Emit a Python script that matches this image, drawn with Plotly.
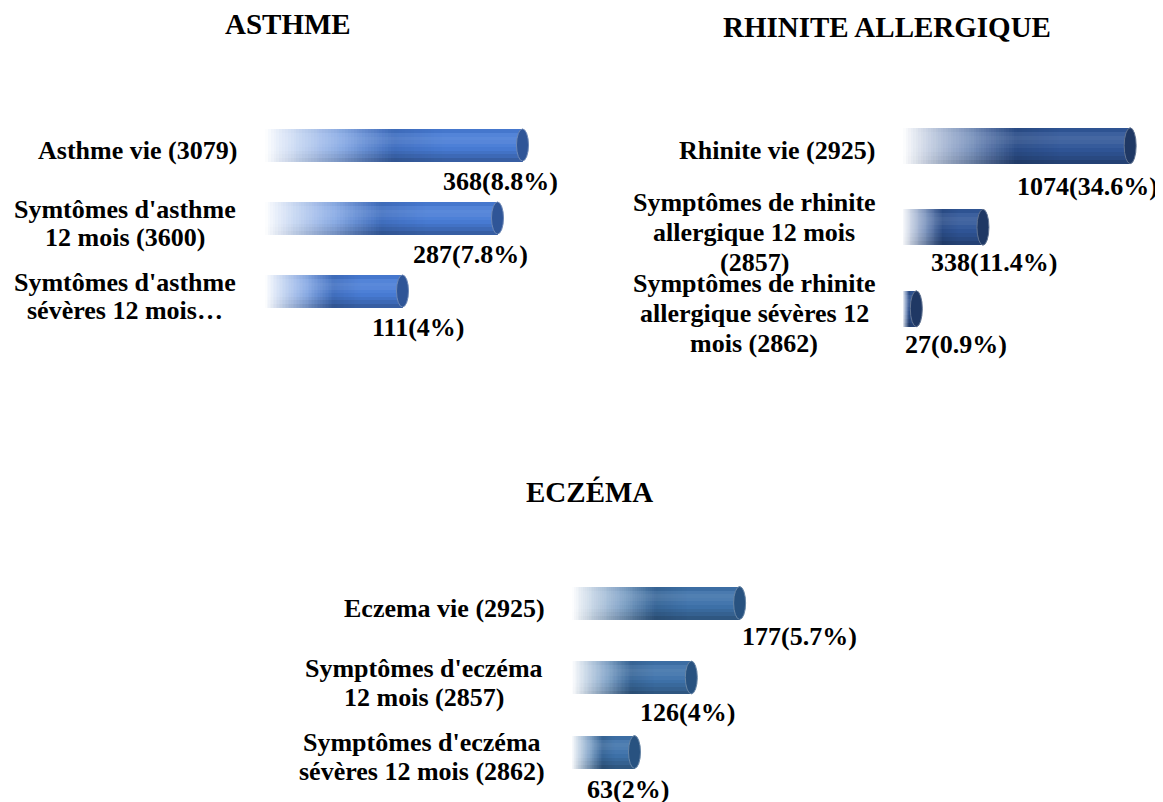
import plotly.graph_objects as go

# ---------------------------------------------------------------------------
# Donnees
# ---------------------------------------------------------------------------
asthme_labels = [
    "Asthme vie (3079)",
    "Symtômes d'asthme<br>12 mois (3600)",
    "Symtômes d'asthme<br>sévères 12 mois…",
]
asthme_counts = [368, 287, 111]
asthme_pct = [8.8, 7.8, 4]

rhinite_labels = [
    "Rhinite vie (2925)",
    "Symptômes de rhinite<br>allergique 12 mois<br>(2857)",
    "Symptômes de rhinite<br>allergique sévères 12<br>mois (2862)",
]
rhinite_counts = [1074, 338, 27]
rhinite_pct = [34.6, 11.4, 0.9]

eczema_labels = [
    "Eczema vie (2925)",
    "Symptômes d'eczéma<br>12 mois (2857)",
    "Symptômes d'eczéma<br>sévères 12 mois (2862)",
]
eczema_counts = [177, 126, 63]
eczema_pct = [5.7, 4, 2]

# ---------------------------------------------------------------------------
# Mise en page (coordonnees en pixels de la page, marge du body = 8 px)
# ---------------------------------------------------------------------------
PAGE_OFF = 8
W, H = 1163 - PAGE_OFF, 802 - PAGE_OFF
FONT = "Liberation Serif, Times New Roman, serif"
N_SEG = 90
BAR_W = 0.44

# ombrage vertical du cylindre (du haut vers le bas), >0 assombrit, <0 eclaircit
V_SHADE = [0.04, -0.06, -0.10, -0.08, -0.03, 0.02, 0.08, 0.15, 0.24]


def fx(p):
    return (p - PAGE_OFF) / W


def fy(p):
    return 1 - (p - PAGE_OFF) / H


panels = [
    dict(title="ASTHME", title_xy=(288, 24), labels=asthme_labels,
         counts=asthme_counts, pct=asthme_pct, ax="", x_px=(265, 565),
         base=-1.5, x_end=10.5, y_px=(108.5, 327.5),
         color=(72, 124, 214), cap=(47, 85, 151),
         label_cx=[137, 125, 125], pitch=28,
         val_dx=[-22, -27, 15], val_dy=[36, 36, 36]),
    dict(title="RHINITE ALLERGIQUE", title_xy=(887, 27), labels=rhinite_labels,
         counts=rhinite_counts, pct=rhinite_pct, ax="2", x_px=(903, 1153),
         base=-1.2, x_end=38.2, y_px=(105, 349.5),
         color=(48, 86, 152), cap=(31, 56, 100),
         label_cx=[777, 754, 754], pitch=30,
         val_dx=[-43, 11, 40], val_dy=[41, 35, 36]),
    dict(title="ECZÉMA", title_xy=(590, 492), labels=eczema_labels,
         counts=eczema_counts, pct=eczema_pct, ax="3", x_px=(572, 822),
         base=-0.2, x_end=8.6, y_px=(565.75, 789.25),
         color=(62, 114, 170), cap=(40, 82, 128),
         label_cx=[444, 424, 422], pitch=29,
         val_dx=[60, -4, -7], val_dy=[33, 35, 37]),
]


def mix(c1, c2, a):
    return tuple(int(round(c1[k] + (c2[k] - c1[k]) * a)) for k in range(3))


def seg_color(rgb, t, shade=0.0):
    # degrade horizontal : blanc -> couleur, zone un peu plus sombre au milieu
    fade = min(1.0, t / 0.5) ** 0.9
    c = mix((255, 255, 255), rgb, fade)
    d = abs(t - 0.5)
    if d < 0.2:
        c = mix(c, (0, 0, 0), 0.10 * (1 - d / 0.2))
    if shade > 0:
        c = mix(c, (0, 0, 0), shade * fade)
    elif shade < 0:
        c = mix(c, (255, 255, 255), -shade * fade)
    return "rgb(%d,%d,%d)" % c


fig = go.Figure()
shapes = []
annotations = []

strip = BAR_W / len(V_SHADE)

for p in panels:
    xa, ya = "x" + p["ax"], "y" + p["ax"]
    for j, shade in enumerate(V_SHADE):
        ys, bases, widths, colors = [], [], [], []
        for i, v in enumerate(p["pct"]):
            step = (v - p["base"]) / N_SEG
            for s in range(N_SEG):
                ys.append(i)
                bases.append(p["base"] + s * step)
                widths.append(step * 1.8 if s < N_SEG - 1 else step)
                colors.append(seg_color(p["color"], (s + 0.5) / N_SEG, shade))
        last = j == len(V_SHADE) - 1
        fig.add_trace(go.Bar(
            orientation="h", y=ys, x=widths, base=bases,
            width=strip if last else strip * 1.3, offset=-BAR_W / 2 + j * strip,
            marker=dict(color=colors, line=dict(width=0)),
            xaxis=xa, yaxis=ya, hoverinfo="skip", showlegend=False,
        ))

    # extremites du cylindre
    for i, v in enumerate(p["pct"]):
        shapes.append(dict(
            type="circle", xref=xa, yref=ya, xsizemode="pixel", xanchor=v,
            x0=-6, x1=6, y0=i - BAR_W / 2, y1=i + BAR_W / 2,
            fillcolor="rgb(%d,%d,%d)" % p["cap"],
            line=dict(color="rgb(%d,%d,%d)" % mix(p["cap"], (255, 255, 255), 0.3), width=1),
        ))

    # titres
    annotations.append(dict(
        text="<b>%s</b>" % p["title"], xref="paper", yref="paper",
        x=fx(p["title_xy"][0]), y=fy(p["title_xy"][1]), xanchor="center",
        yanchor="middle", showarrow=False, font=dict(family=FONT, size=29, color="black"),
    ))

    # etiquettes de categories (une annotation par ligne)
    for i, lab in enumerate(p["labels"]):
        lines = lab.split("<br>")
        n = len(lines)
        for k, line in enumerate(lines):
            annotations.append(dict(
                text="<b>%s</b>" % line, xref="paper", yref=ya,
                x=fx(p["label_cx"][i]), y=i, xanchor="center", yanchor="middle",
                yshift=-(5 + (k - (n - 1) / 2) * p["pitch"]), showarrow=False,
                font=dict(family=FONT, size=26, color="black"),
            ))

    # valeurs
    for i, (c, v) in enumerate(zip(p["counts"], p["pct"])):
        annotations.append(dict(
            text="<b>%d(%s%%)</b>" % (c, format(v, "g")), xref=xa, yref=ya,
            x=v, y=i, xanchor="center", yanchor="middle",
            xshift=p["val_dx"][i], yshift=-p["val_dy"][i], showarrow=False,
            font=dict(family=FONT, size=26, color="black"),
        ))

layout_axes = {}
for p in panels:
    xk = "xaxis" + p["ax"]
    yk = "yaxis" + p["ax"]
    layout_axes[xk] = dict(
        domain=[fx(p["x_px"][0]), fx(p["x_px"][1])], range=[p["base"], p["x_end"]],
        visible=False, fixedrange=True, anchor="y" + p["ax"],
    )
    layout_axes[yk] = dict(
        domain=[fy(p["y_px"][1]), fy(p["y_px"][0])], range=[2.5, -0.5],
        visible=False, fixedrange=True, anchor="x" + p["ax"],
    )

fig.update_layout(
    width=W, height=H, margin=dict(l=0, r=0, t=0, b=0),
    paper_bgcolor="white", plot_bgcolor="white",
    barmode="overlay", bargap=0, showlegend=False,
    shapes=shapes, annotations=annotations,
    **layout_axes,
)

fig.write_html("out.html", config={"displayModeBar": False})
